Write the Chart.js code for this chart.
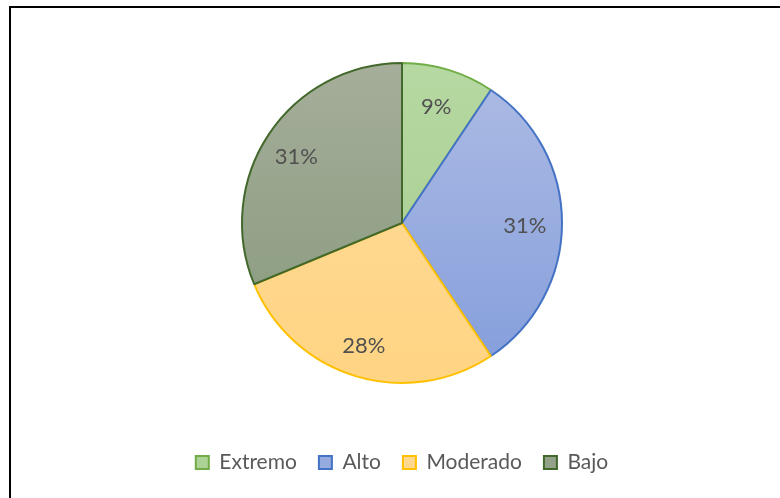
<!DOCTYPE html>
<html>
<head>
<meta charset="utf-8">
<script src="https://cdn.jsdelivr.net/npm/chart.js@4"></script>
<style>
  body { margin: 0; background: #fff; }
  #wrap { position: relative; width: 780px; height: 498px; overflow: hidden; }
  #frame { position: absolute; left: 9px; top: 6px; width: 900px; height: 700px;
           border-left: 2px solid #000; border-top: 2px solid #000; pointer-events: none; }
  canvas { position: absolute; left: 0; top: 0; }
</style>
</head>
<body>
<div id="wrap">
  <canvas id="myChart" width="780" height="498"></canvas>
  <div id="frame"></div>
</div>
<script>
const categories = ["Extremo", "Alto", "Moderado", "Bajo"];
const counts = [3, 10, 9, 10];

const topColors = ["#b6d8a2", "#aebce4", "#ffdc9c", "#a5ae9a"];
const bottomColors = ["#a4cc8b", "#839ddb", "#ffd483", "#85987a"];
const legendColors = ["#acd296", "#96abdf", "#ffd88f", "#93a289"];
const borderColors = ["#70ad47", "#4472c4", "#ffc000", "#43682b"];

const pieRadius = 160;

function sliceGradient(context) {
    const chart = context.chart;
    const area = chart.chartArea;
    const i = context.dataIndex;
    if (!area) {
        return legendColors[i];
    }
    const cy = (area.top + area.bottom) / 2;
    const g = chart.ctx.createLinearGradient(0, cy - pieRadius, 0, cy + pieRadius);
    g.addColorStop(0, topColors[i]);
    g.addColorStop(1, bottomColors[i]);
    return g;
}

// draws the percentage inside each slice
const percentLabels = {
    id: 'percentLabels',
    afterDatasetsDraw(chart) {
        const ctx = chart.ctx;
        const meta = chart.getDatasetMeta(0);
        const data = chart.data.datasets[0].data;
        const total = data.reduce((a, b) => a + b, 0);
        ctx.save();
        ctx.font = '22px Lato';
        ctx.fillStyle = '#505050';
        ctx.textAlign = 'center';
        ctx.textBaseline = 'middle';
        meta.data.forEach((arc, i) => {
            const mid = (arc.startAngle + arc.endAngle) / 2;
            const r = arc.outerRadius * 0.78;
            const x = arc.x + Math.cos(mid) * r - 2;
            const y = arc.y + Math.sin(mid) * r + 3;
            ctx.fillText(Math.round(data[i] / total * 100) + '%', x, y);
        });
        ctx.restore();
    }
};

const chartElement = document.getElementById('myChart');
const myChart = new Chart(chartElement, {
    type: 'pie',
    data: {
        labels: categories,
        datasets: [{
            data: counts,
            backgroundColor: sliceGradient,
            borderColor: borderColors,
            borderWidth: 2,
            radius: pieRadius
        }]
    },
    options: {
        responsive: false,
        animation: false,
        layout: {
            padding: { left: 24, right: 0, top: 16, bottom: 15 }
        },
        plugins: {
            tooltip: { enabled: false },
            legend: {
                position: 'bottom',
                labels: {
                    boxWidth: 13,
                    boxHeight: 13,
                    padding: 22,
                    color: '#595959',
                    font: { family: 'Lato', size: 21 },
                    generateLabels(chart) {
                        return chart.data.labels.map((text, i) => ({
                            text: text,
                            fillStyle: legendColors[i],
                            strokeStyle: borderColors[i],
                            lineWidth: 2,
                            fontColor: '#595959',
                            hidden: false,
                            index: i
                        }));
                    }
                }
            }
        }
    },
    plugins: [percentLabels]
});
</script>
</body>
</html>
